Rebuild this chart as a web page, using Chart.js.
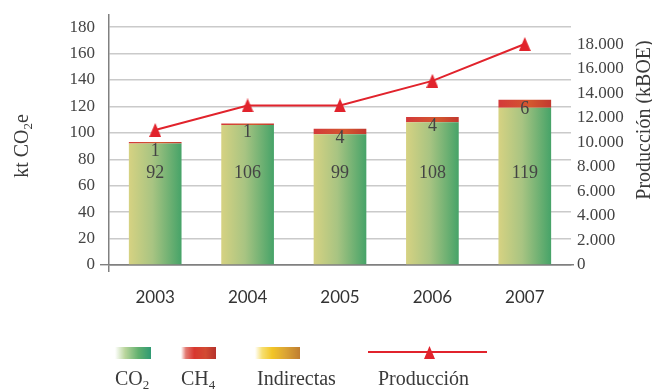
<!DOCTYPE html>
<html>
<head>
<meta charset="utf-8">
<script src="https://cdn.jsdelivr.net/npm/chart.js@4/dist/chart.umd.min.js"></script>
<style>
  html, body { margin: 0; padding: 0; background: #fff; overflow: hidden; }
  #wrap { position: relative; width: 652px; height: 389px; overflow: hidden; }
  #chart { position: absolute; left: 0; top: 0; }
  .sw { position: absolute; top: 347px; height: 12px; }
  .lg { position: absolute; top: 368px; font: 20px/20px "Liberation Serif", serif; color: #3a3a3a; white-space: nowrap; }
  .lg sub { font-size: 13px; vertical-align: -4px; line-height: 0; }
</style>
</head>
<body>
<div id="wrap">
  <canvas id="chart" width="652" height="389"></canvas>

  <div class="sw" style="left:115px;width:36px;background:linear-gradient(to right,#ffffff 0%,#b9d59c 28%,#62b06f 65%,#2f9a73 100%)"></div>
  <div class="sw" style="left:181px;width:35px;background:linear-gradient(to right,#ffffff 0%,#e27a72 14%,#d8372f 38%,#d24b32 70%,#b5312c 100%)"></div>
  <div class="sw" style="left:255px;width:45px;background:linear-gradient(to right,#ffffff 0%,#f7df70 16%,#f2c526 38%,#dca634 66%,#bf7d30 100%)"></div>
  <div style="position:absolute;left:368px;top:351px;width:119px;height:2px;background:#e1232c"></div>
  <div style="position:absolute;left:424px;top:346px;width:11px;height:13px;background:#e1232c;clip-path:polygon(50% 0,100% 100%,0 100%)"></div>

  <div class="lg" style="left:115px">CO<sub>2</sub></div>
  <div class="lg" style="left:181px">CH<sub>4</sub></div>
  <div class="lg" style="left:257px">Indirectas</div>
  <div class="lg" style="left:378px">Producción</div>
</div>

<script>
// Emisiones (kt CO2e) y producción (kBOE) por año
const categories = ['2003', '2004', '2005', '2006', '2007'];
const co2 = [92, 106, 99, 108, 119];
const ch4 = [1, 1, 4, 4, 6];
const indirectas = [0, 0, 0, 0, 0];
const produccion = [11000, 13000, 13000, 15000, 18000];

const leftTicks = [0, 20, 40, 60, 80, 100, 120, 140, 160, 180];
const rightTicks = [0, 2000, 4000, 6000, 8000, 10000, 12000, 14000, 16000, 18000];

const AXIS = '#808080';
const GRID = '#cacaca';
const RED = '#e1232c';
const SERIF = 'Liberation Serif';
const BAR_PCT = 0.57;

// horizontal gradient across the width of each bar
function barGradient(stops, fallback) {
  return (ctx) => {
    const chart = ctx.chart;
    if (!chart.chartArea || ctx.dataIndex === undefined) return fallback;
    const xs = chart.scales.x;
    const center = xs.getPixelForValue(ctx.dataIndex);
    const half = (xs.width / categories.length) * BAR_PCT / 2;
    const g = chart.ctx.createLinearGradient(center - half, 0, center + half, 0);
    stops.forEach(([o, c]) => g.addColorStop(o, c));
    return g;
  };
}

function triangleMarker(w, h, color) {
  const c = document.createElement('canvas');
  c.width = w; c.height = h;
  const g = c.getContext('2d');
  g.fillStyle = color;
  g.beginPath();
  g.moveTo(w / 2, 0);
  g.lineTo(w, h);
  g.lineTo(0, h);
  g.closePath();
  g.fill();
  return c;
}

function thousands(v) {
  return String(v).replace(/\B(?=(\d{3})+(?!\d))/g, '.');
}

// value labels inside the bars and rotated axis titles
const annotations = {
  id: 'annotations',
  afterDatasetsDraw(chart) {
    const { ctx, scales } = chart;
    const y = scales.y;
    ctx.save();
    ctx.font = '18px "' + SERIF + '", serif';
    ctx.fillStyle = '#444';
    ctx.textAlign = 'center';
    ctx.textBaseline = 'middle';
    const metaCo2 = chart.getDatasetMeta(0);
    const metaCh4 = chart.getDatasetMeta(1);
    categories.forEach((c, i) => {
      const x = metaCo2.data[i].x;
      ctx.fillText(String(co2[i]), x, y.getPixelForValue(70) + 1);
      const top = metaCh4.data[i].y;
      ctx.fillText(String(ch4[i]), x, top + 9);
    });
    ctx.restore();
  },
  afterDraw(chart) {
    const { ctx } = chart;
    ctx.save();
    ctx.fillStyle = '#3a3a3a';
    ctx.textBaseline = 'alphabetic';
    ctx.textAlign = 'left';

    // left title: kt CO2e with subscript
    const big = '20px "' + SERIF + '", serif', small = '13px "' + SERIF + '", serif';
    ctx.font = big;
    const a = 'kt CO', e = 'e';
    const wa = ctx.measureText(a).width, we = ctx.measureText(e).width;
    ctx.font = small;
    const w2 = ctx.measureText('2').width;
    const total = wa + w2 + we;
    ctx.translate(28, 146);
    ctx.rotate(-Math.PI / 2);
    let px = -total / 2;
    ctx.font = big; ctx.fillText(a, px, 0); px += wa;
    ctx.font = small; ctx.fillText('2', px, 4); px += w2;
    ctx.font = big; ctx.fillText(e, px, 0);
    ctx.setTransform(1, 0, 0, 1, 0, 0);

    // right title, partly beyond the right edge
    ctx.font = big;
    ctx.textAlign = 'center';
    ctx.translate(650, 120);
    ctx.rotate(-Math.PI / 2);
    ctx.fillText('Producción (kBOE)', 0, 0);
    ctx.restore();
  }
};

new Chart(document.getElementById('chart'), {
  data: {
    labels: categories,
    datasets: [
      {
        type: 'bar', label: 'CO2', data: co2, order: 1,
        backgroundColor: barGradient([[0, '#d6d282'], [0.45, '#a8c482'], [1, '#46a368']], '#7fb676'),
        borderWidth: 0
      },
      {
        type: 'bar', label: 'CH4', data: ch4, order: 1,
        backgroundColor: barGradient([[0, '#d4393a'], [0.6, '#d3582f'], [1, '#c2382f']], '#d04a33'),
        borderWidth: 0
      },
      {
        type: 'bar', label: 'Indirectas', data: indirectas, order: 1,
        backgroundColor: barGradient([[0, '#f3cd35'], [1, '#c0802e']], '#dca634'),
        borderWidth: 0
      },
      {
        type: 'line', label: 'Producción', data: produccion, yAxisID: 'y1', order: 0,
        borderColor: RED, borderWidth: 2, tension: 0, fill: false,
        pointStyle: triangleMarker(12, 14, RED), pointRadius: 7
      }
    ]
  },
  options: {
    responsive: false,
    animation: false,
    devicePixelRatio: 1,
    font: { family: SERIF },
    layout: { padding: { top: 10, left: 0, right: 0, bottom: 0 } },
    datasets: { bar: { barPercentage: BAR_PCT, categoryPercentage: 1 } },
    plugins: { legend: { display: false }, tooltip: { enabled: false } },
    scales: {
      x: {
        stacked: true,
        afterFit(s) { s.height = 124; },
        grid: {
          drawOnChartArea: false, drawTicks: true, tickLength: 7, lineWidth: 1.5,
          tickColor: (c) => (c.index === 0 ? AXIS : 'rgba(0,0,0,0)')
        },
        border: { display: true, color: AXIS, width: 1.5 },
        ticks: { color: '#333', font: { family: 'Lato', size: 17 }, padding: 15 }
      },
      y: {
        stacked: true, position: 'left', min: 0, max: 189,
        afterFit(s) { s.width = 109; },
        afterBuildTicks(s) { s.ticks = leftTicks.map((v) => ({ value: v })); },
        grid: {
          color: (c) => (c.tick && c.tick.value === 0 ? AXIS : GRID),
          lineWidth: 1.4, drawTicks: true, tickLength: 9,
          tickColor: (c) => (c.tick && c.tick.value === 0 ? AXIS : 'rgba(0,0,0,0)')
        },
        border: { display: true, color: AXIS, width: 1.5 },
        ticks: { color: '#444', font: { family: SERIF, size: 17 }, padding: 5 }
      },
      y1: {
        position: 'right', min: 0, max: 20350,
        afterFit(s) { s.width = 81; },
        afterBuildTicks(s) { s.ticks = rightTicks.map((v) => ({ value: v })); },
        grid: {
          drawOnChartArea: false, drawTicks: true, tickLength: 3, lineWidth: 1.5,
          tickColor: (c) => (c.tick && c.tick.value === 0 ? AXIS : 'rgba(0,0,0,0)')
        },
        border: { display: false },
        ticks: { color: '#444', font: { family: SERIF, size: 17 }, padding: 3, callback: (v) => thousands(v) }
      }
    }
  },
  plugins: [annotations]
});
</script>
</body>
</html>
